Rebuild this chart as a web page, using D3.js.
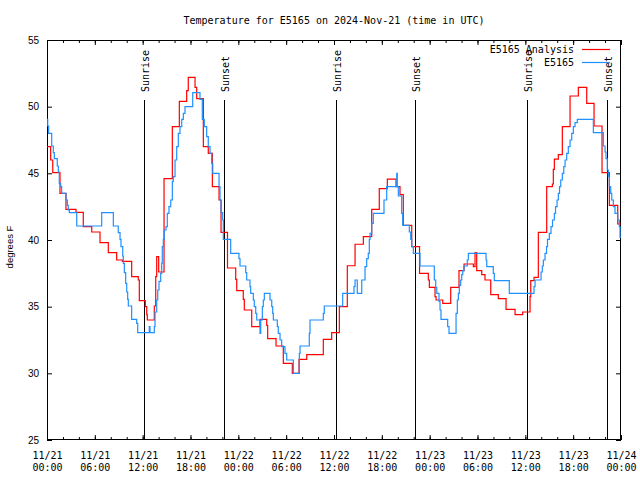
<!DOCTYPE html>
<html><head><meta charset="utf-8">
<script src="https://cdn.jsdelivr.net/npm/d3@7"></script>
<style>body{margin:0;background:#fff}svg{display:block}</style>
</head><body>
<script>
// Hours since 2024-11-21 00:00 UTC, and temperature (deg F), step series
const analysisHours = [0,0.46,0.72,1.63,2.38,3.64,4.55,5.61,6.65,7.69,8.74,9.45,10.62,11.45,11.58,12.33,12.51,12.58,13.46,13.64,13.76,14.01,14.68,15.72,16.60,17.52,17.72,18.57,18.78,19.61,20.23,20.74,21.58,21.83,22.64,23.67,23.80,24.62,24.75,25.68,26.72,27.56,27.68,28.73,29.64,30.77,31.61,32.58,34.66,35.71,36.67,37.67,38.64,39.68,40.73,41.68,42.69,43.78,44.28,44.69,45.75,46.73,47.83,47.96,48.67,48.80,49.64,50.64,51.68,52.31,53.48,53.69,53.90,54.53,54.94,55.66,56.61,57.58,58.71,59.67,60.59,60.68,61.09,61.63,62.68,63.39,63.51,63.64,64.14,64.64,65.61,66.65,67.70,68.62,69.62,70.54,71.59,72];
const analysisValues = [47.0,46.0,45.05,43.5,42.3,42.07,41.0,40.6,39.8,39.05,38.5,38.4,37.25,37.0,35.45,35.0,34.4,34.0,35.05,37.25,38.75,37.6,44.6,48.5,50.4,51.2,52.2,51.45,50.6,47.0,46.5,44.0,43.0,40.57,37.9,37.05,36.2,35.55,34.75,33.5,34.05,33.6,32.6,32.05,30.75,30.0,31.05,31.4,32.55,33.05,35.0,38.07,39.68,40.25,42.3,43.85,44.57,44.0,43.4,41.1,39.5,37.5,37.0,36.45,35.75,35.5,35.25,36.45,37.7,38.2,38.0,39.05,37.7,37.4,37.0,35.9,35.6,34.8,34.4,34.6,35.75,36.95,37.2,40.57,44.0,44.2,45.3,46.07,46.4,48.5,50.8,51.45,50.25,48.55,45.05,42.6,41.2,41.2];

const stationHours = [0,0.09,0.21,0.59,0.79,0.92,1.29,1.42,1.54,1.72,1.84,2.38,2.55,2.67,2.80,3.73,6.86,8.32,8.94,9.16,9.28,9.50,9.57,9.70,9.87,10.00,10.12,10.20,10.62,11.25,11.38,12.83,12.92,13.46,13.55,13.76,13.89,14.05,14.26,14.39,14.46,14.59,14.71,14.93,15.09,15.30,15.52,15.72,15.84,16.06,16.27,16.47,16.68,16.90,17.10,17.31,18.28,19.19,19.48,19.73,20.03,20.23,20.45,20.66,20.79,21.58,21.70,21.83,22.04,22.12,23.04,24.08,24.21,24.93,25.05,25.46,25.55,25.88,26.00,26.18,26.31,26.72,26.81,27.01,27.13,27.26,27.97,28.19,28.31,28.39,28.89,29.01,29.23,29.44,29.85,30.07,30.90,31.65,31.74,32.90,32.99,34.66,34.78,37.09,38.51,38.64,38.92,39.48,39.89,40.10,40.30,40.43,40.52,40.73,40.93,42.27,42.61,43.87,43.94,44.07,44.49,44.62,45.45,45.62,45.75,45.95,46.79,48.58,48.76,48.89,49.17,49.30,49.42,50.26,50.43,51.31,51.47,51.60,51.72,51.89,52.02,52.15,52.31,52.72,52.85,55.07,55.16,55.98,56.11,57.99,61.09,61.22,61.97,62.13,62.26,62.47,62.66,62.78,63.01,63.22,63.41,63.64,63.79,63.98,64.14,64.29,64.44,64.64,64.82,64.98,65.19,65.39,65.61,65.82,66.02,66.23,66.52,68.53,69.78,70.00,70.12,70.28,70.41,70.54,70.71,70.84,71.04,71.25,71.59,71.79,71.88,72];
const stationValues = [49.05,48.55,48.0,47.05,46.55,46.1,45.55,45.1,44.25,44.0,43.5,43.0,42.6,42.25,42.05,41.05,42.05,41.05,40.55,40.05,39.5,38.8,38.25,37.55,36.75,36.1,35.55,35.05,34.05,33.75,33.05,33.5,33.05,33.5,34.6,35.5,36.25,36.9,37.5,38.25,39.5,40.05,40.75,41.0,42.0,42.5,43.0,44.4,44.75,46.0,47.0,48.0,48.5,49.05,49.5,50.0,51.05,50.55,49.05,48.5,47.75,47.0,46.5,45.75,45.0,44.0,43.0,42.05,41.5,40.05,39.0,38.6,38.05,37.55,37.0,36.5,36.0,35.5,35.0,34.5,34.0,33.0,34.0,35.0,35.5,36.0,35.5,35.0,34.5,34.0,33.5,33.0,32.5,32.0,31.5,31.0,30.0,31.5,32.05,33.0,34.0,34.5,35.05,36.0,36.5,37.0,36.0,37.0,38.0,38.6,39.0,40.05,40.5,41.25,42.0,43.0,44.0,45.0,44.0,43.3,42.0,41.1,40.6,40.05,39.5,39.0,38.05,37.0,36.45,36.0,35.4,34.75,34.05,33.5,33.0,34.5,35.5,36.0,36.6,37.0,37.4,37.7,38.05,38.5,39.0,38.5,38.0,37.5,36.95,36.0,36.5,37.0,37.6,38.05,38.5,39.0,39.5,40.05,40.5,41.0,41.5,42.0,42.5,43.0,43.5,44.0,44.5,45.0,45.5,46.0,46.5,47.0,47.5,48.0,48.5,48.8,49.05,48.05,47.05,46.6,46.1,45.25,44.75,44.0,43.5,43.0,42.5,42.0,41.5,41.0,40.2,40.2];

const sunEventHours = [12.21, 22.24, 36.29, 46.20, 60.25, 70.28];
const sunEventLabels = ["Sunrise", "Sunset", "Sunrise", "Sunset", "Sunrise", "Sunset"];
const yTickValues = [25, 30, 35, 40, 45, 50, 55];
const seriesNames = ["E5165 Analysis", "E5165"];
const seriesColors = ["#ff0000", "#1e90ff"];
const titleText = "Temperature for E5165 on 2024-Nov-21 (time in UTC)";
const yLabelText = "degrees F";
const startUTC = Date.UTC(2024, 10, 21);

const W = 640, H = 480;
const m = {left: 47, right: 19, top: 40, bottom: 40};
const iw = W - m.left - m.right, ih = H - m.top - m.bottom;
const mono = "'DejaVu Sans Mono', monospace";
const sans = "'Liberation Sans', Arial, sans-serif";

const toDate = h => new Date(startUTC + h * 3600e3);
const x = d3.scaleUtc().domain([toDate(0), toDate(72)]).range([m.left, m.left + iw]);
const y = d3.scaleLinear().domain([25, 55]).range([m.top + ih, m.top]);

const svg = d3.select("body").append("svg").attr("width", W).attr("height", H)
  .style("background", "#fff");

// title
svg.append("text").attr("x", m.left + iw / 2).attr("y", 24)
  .attr("text-anchor", "middle").style("font-family", mono).style("font-size", "10px")
  .text(titleText);

const majorTicks = d3.utcHour.every(6).range(toDate(0), toDate(72.01));
const minorTicks = d3.utcHour.every(2).range(toDate(0), toDate(72.01));

// axes (inward ticks, mirrored)
function styleAxis(g) { g.select(".domain").remove(); g.selectAll("line").attr("stroke", "#000"); }
svg.append("g").attr("transform", `translate(0,${m.top + ih})`)
  .call(d3.axisBottom(x).tickValues(minorTicks).tickSize(-3).tickFormat("")).call(styleAxis);
svg.append("g").attr("transform", `translate(0,${m.top})`)
  .call(d3.axisTop(x).tickValues(minorTicks).tickSize(-3).tickFormat("")).call(styleAxis);
svg.append("g").attr("transform", `translate(0,${m.top})`)
  .call(d3.axisTop(x).tickValues(majorTicks).tickSize(-5).tickFormat("")).call(styleAxis);
const xb = svg.append("g").attr("transform", `translate(0,${m.top + ih})`)
  .call(d3.axisBottom(x).tickValues(majorTicks).tickSize(-5).tickPadding(0)
    .tickFormat(d3.utcFormat("%m/%d")));
xb.call(styleAxis);
xb.selectAll("text").each(function(d) {
  const t = d3.select(this);
  t.text(null).attr("y", 0).attr("dy", null)
    .style("font-family", mono).style("font-size", "10px").attr("fill", "#000");
  t.append("tspan").attr("x", 0).attr("y", 18.5).text(d3.utcFormat("%m/%d")(d));
  t.append("tspan").attr("x", 0).attr("y", 30.5).text(d3.utcFormat("%H:%M")(d));
});

const yl = svg.append("g").attr("transform", `translate(${m.left},0)`)
  .call(d3.axisLeft(y).tickValues(yTickValues).tickSize(-5).tickPadding(8));
yl.call(styleAxis);
yl.selectAll("text").style("font-family", sans).style("font-size", "10px").attr("fill", "#000");
svg.append("g").attr("transform", `translate(${m.left + iw},0)`)
  .call(d3.axisRight(y).tickValues(yTickValues).tickSize(-5).tickFormat("")).call(styleAxis);

// frame
svg.append("rect").attr("x", m.left + 0.5).attr("y", m.top + 0.5)
  .attr("width", iw - 1).attr("height", ih - 1)
  .attr("fill", "none").attr("stroke", "#000");

// y label
svg.append("text").attr("transform", "translate(13,247) rotate(-90)")
  .attr("text-anchor", "middle").style("font-family", sans).style("font-size", "9.5px")
  .text(yLabelText);

// sunrise / sunset
const ev = svg.append("g");
sunEventHours.forEach((h, i) => {
  const xx = Math.round(x(toDate(h))) + 0.5;
  ev.append("line").attr("x1", xx).attr("x2", xx).attr("y1", 100).attr("y2", m.top + ih)
    .attr("stroke", "#000").attr("stroke-width", 1);
  ev.append("text").attr("transform", `translate(${xx + 4.5},92) rotate(-90)`)
    .attr("text-anchor", "start").style("font-family", mono).style("font-size", "10px")
    .text(sunEventLabels[i]);
});

// series
const series = [
  analysisHours.map((h, i) => ({t: toDate(h), v: analysisValues[i]})),
  stationHours.map((h, i) => ({t: toDate(h), v: stationValues[i]}))
];
const line = d3.line().x(d => x(d.t)).y(d => y(d.v)).curve(d3.curveStepAfter);
series.forEach((s, i) => {
  svg.append("path").datum(s).attr("d", line)
    .attr("fill", "none").attr("stroke", seriesColors[i]).attr("stroke-width", 1.2)
    .attr("stroke-linejoin", "miter");
});

// legend
seriesNames.forEach((n, i) => {
  const ly = 49.5 + i * 13;
  svg.append("text").attr("x", 574).attr("y", ly + 3.5).attr("text-anchor", "end")
    .style("font-family", mono).style("font-size", "10px").text(n);
  svg.append("line").attr("x1", 582).attr("x2", 610).attr("y1", ly).attr("y2", ly)
    .attr("stroke", seriesColors[i]).attr("stroke-width", 1.2);
});
</script>
</body></html>
